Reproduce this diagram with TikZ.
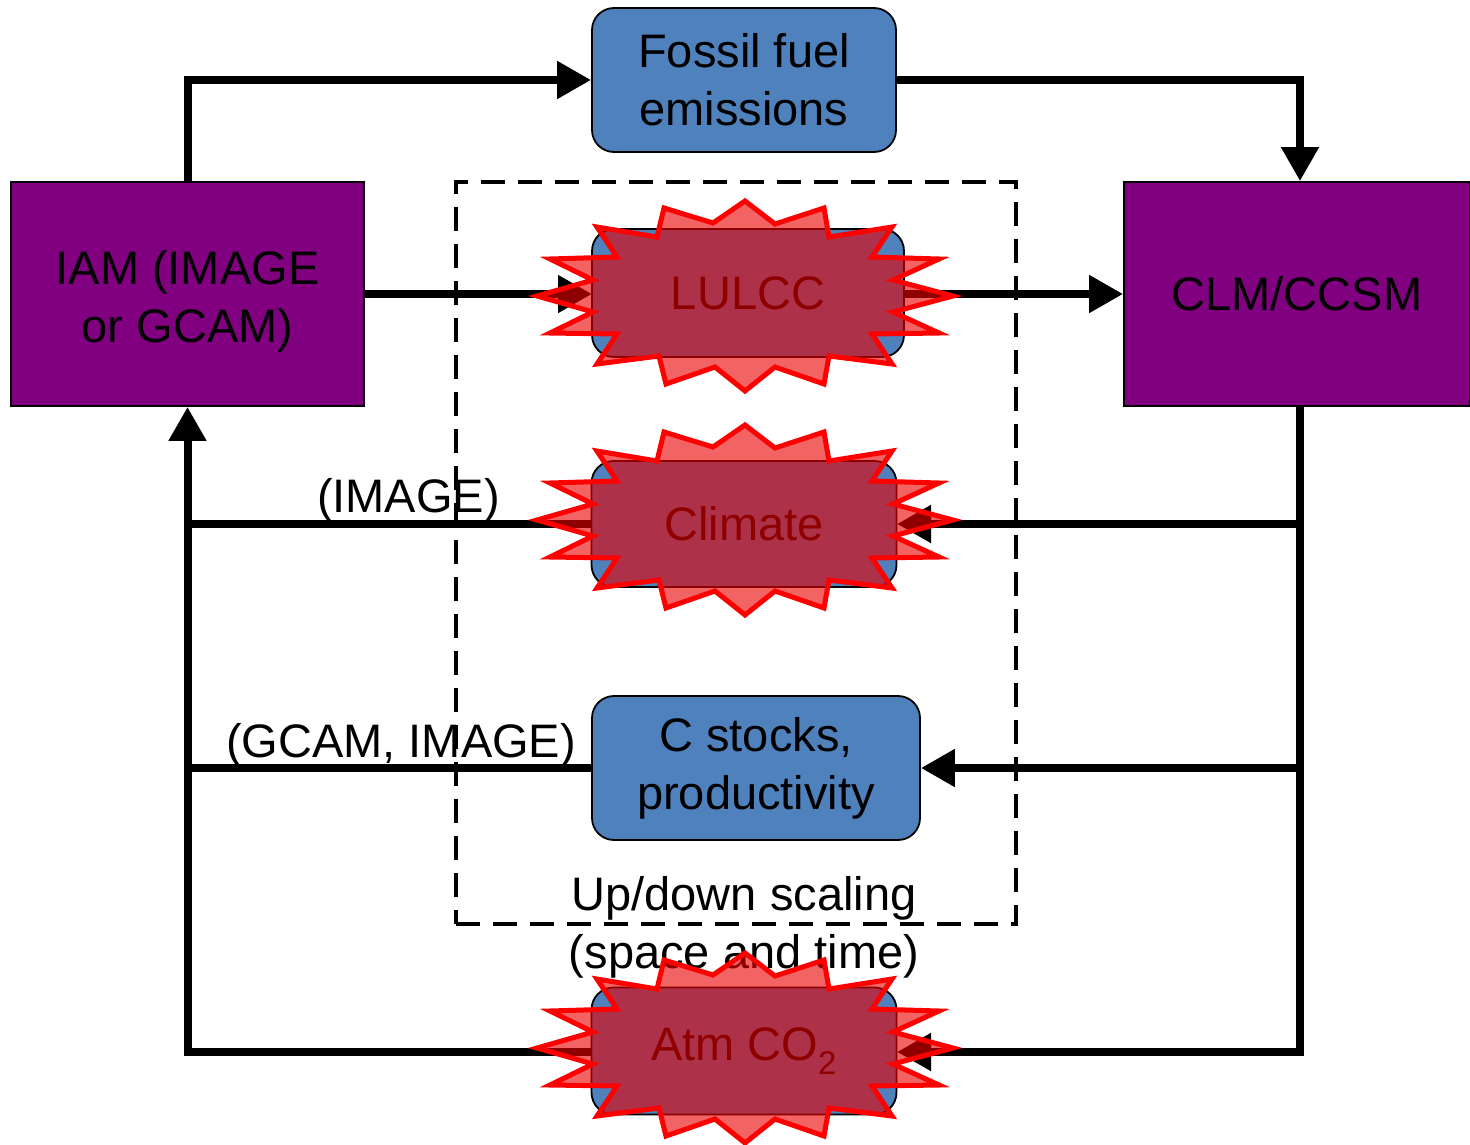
\documentclass[tikz,border=0pt]{standalone}
\usepackage{fontspec}
\setmainfont{Liberation Sans}
\usetikzlibrary{arrows.meta}
\definecolor{boxblue}{RGB}{79,129,189}
\definecolor{iampurple}{RGB}{128,0,128}
\definecolor{burstred}{RGB}{233,0,0}
\newcommand\drawburst[1]{%
  \filldraw[burst, shift={(#1)}] (0,-95) -- (30,-72) -- (79,-88) -- (84,-59) -- (147,-69) -- (127,-39) -- (194,-37) -- (148,-16) -- (208,0) -- (148,16) -- (194,37) -- (127,38) -- (147,68) -- (84,60) -- (79,88) -- (30,71) -- (0,95) -- (-30,71) -- (-79,88) -- (-86,60) -- (-148,68) -- (-128,38) -- (-195,37) -- (-152,16) -- (-208,0) -- (-152,-16) -- (-195,-37) -- (-128,-39) -- (-148,-69) -- (-88,-59) -- (-81,-88) -- (-32,-73) -- cycle;}
\begin{document}
\begin{tikzpicture}[x=1pt,y=-1pt,
  every node/.style={font=\fontsize{47}{58}\selectfont},
  bluebox/.style={draw=black, line width=1.8pt, fill=boxblue, rounded corners=22pt, inner sep=0pt, align=center},
  purplebox/.style={draw=black, line width=1.8pt, fill=iampurple, inner sep=0pt, align=center},
  conn/.style={line width=8pt, line join=miter},
  arr/.style={conn, -{Triangle[width=36pt,length=34pt]}},
  burst/.style={draw=red, line width=5pt, fill=burstred, fill opacity=0.61, line join=miter},
  scalebox/.style={draw=black, line width=4pt, dash pattern=on 24pt off 13pt, inner sep=0pt},
  lbl/.style={inner sep=0pt, anchor=base}]
\useasboundingbox (0,0) rectangle (1470,1144);
% dashed scaling box
\node[scalebox, minimum width=560pt, minimum height=742pt] (scal) at (736,553) {};
% main boxes
\node[purplebox, minimum width=353pt, minimum height=224pt] (iam) at (187.5,294) {\rule{0pt}{49pt}IAM (IMAGE\\or GCAM)};
\node[purplebox, minimum width=346pt, minimum height=224pt] (clm) at (1297,294) {CLM/CCSM};
\node[bluebox, minimum width=304pt, minimum height=144pt] (fossil) at (744,80) {Fossil fuel\\emissions};
\node[bluebox, minimum width=328pt, minimum height=144pt] (cst) at (756,768) {C stocks,\\productivity};
% connectors
\coordinate (trunk) at ([xshift=3pt]clm.south);
\coordinate (lulccL) at (592,294);
\coordinate (lulccR) at (903,294);
\coordinate (climL) at (592,524);
\coordinate (climR) at (897,524);
\coordinate (atmL) at (592,1052);
\coordinate (atmR) at (897,1052);
\draw[arr] (iam.north) |- (fossil.west);
\draw[arr] (fossil.east) -| (trunk |- clm.north);
\draw[arr] (iam.east |- lulccL) -- (lulccL);
\draw[arr] (lulccR) -- (lulccR -| clm.west);
\draw[arr] (trunk) |- (atmR);
\draw[arr] (trunk |- climR) -- (climR);
\draw[arr] (trunk |- cst.east) -- (cst.east);
\draw[arr] (atmL) -| (iam.south);
\draw[conn] (climL) -- (climL -| iam.south);
\draw[conn] (cst.west) -- (cst.west -| iam.south);
% boxes under bursts
\node[bluebox, minimum width=312pt, minimum height=128pt] (lulcc) at (748,293) {LULCC};
\node[bluebox, minimum width=305pt, minimum height=126pt] (clim) at (744,524) {Climate};
\node[bluebox, minimum width=305pt, minimum height=127pt] (atm) at (744,1051) {Atm CO\textsubscript{2}};
% labels
\node[lbl] (limg) at (408.5,512) {(IMAGE)};
\node[lbl] (lgi) at (401,757) {(GCAM, IMAGE)};
\node[inner sep=0pt, align=center, anchor=base] (lup) at (744,968) {Up/down scaling\\(space and time)};
% bursts
\coordinate (b1) at (745,296);
\coordinate (b2) at (745,520);
\coordinate (b3) at (745,1048);
\drawburst{b1}
\drawburst{b2}
\drawburst{b3}
\end{tikzpicture}
\end{document}
